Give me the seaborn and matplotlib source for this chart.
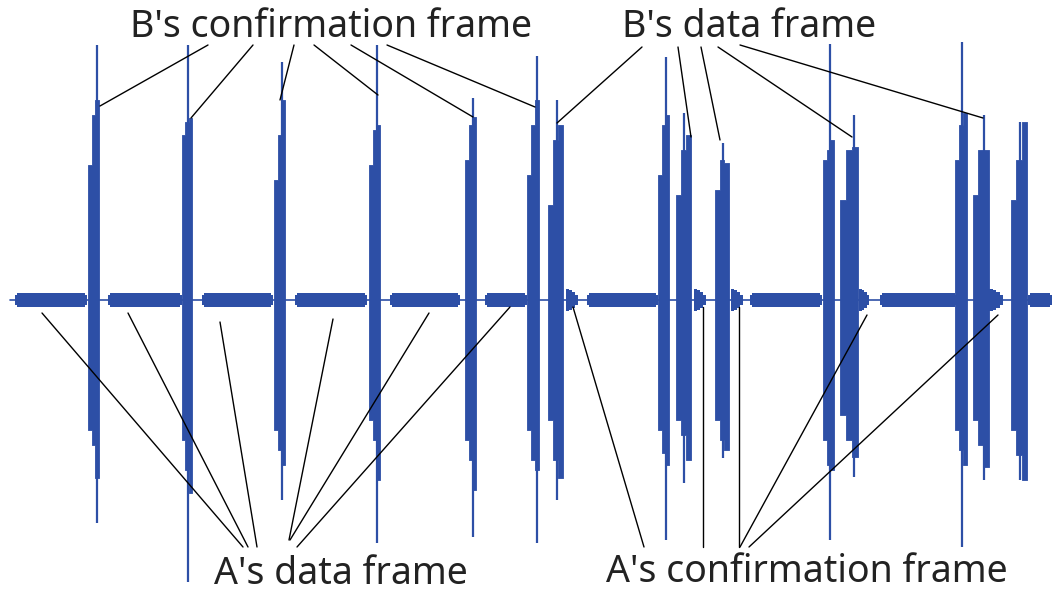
import numpy as np
import pandas as pd
import seaborn as sns
import matplotlib.pyplot as plt

# waveform, in picture pixels (y grows downwards)
BASELINE = 300
BLUE = '#2d4fa6'

# big bursts (B's frames): x range, envelope tops/bottoms in 3 steps, spike
burst_x0 = [88, 182, 274, 369, 465, 527, 548, 658, 676, 715, 823, 840, 955, 973, 1011]
burst_x1 = [99, 192, 285, 380, 476, 539, 563, 669, 691, 729, 834, 858, 967, 989, 1027]
burst_tops = [[165, 115, 100], [135, 122, 118], [180, 135, 100], [165, 130, 125],
              [160, 125, 117], [175, 125, 100], [205, 140, 125], [175, 125, 115],
              [195, 150, 135], [190, 160, 163], [160, 150, 140], [200, 150, 147],
              [160, 125, 113], [195, 150, 150], [200, 160, 122]]
burst_bots = [[430, 445, 478], [440, 470, 493], [430, 450, 465], [420, 440, 480],
              [440, 460, 490], [430, 460, 470], [420, 460, 478], [430, 453, 465],
              [420, 435, 460], [420, 440, 450], [440, 465, 470], [415, 440, 457],
              [430, 450, 465], [420, 445, 467], [430, 455, 480]]
spike_x = [97, 188, 282, 377, 473, 537, 557, 666, 684, 723, 830, 854, 962, 984, 1020]
spike_top = [45, 45, 62, 45, 98, 56, 100, 57, 113, 143, 44, 115, 42, 115, 122]
spike_bot = [523, 582, 500, 543, 537, 543, 500, 540, 483, 458, 540, 477, 547, 480, 480]

# A's data frames (low, wide bursts)
adata_x0 = [15, 108, 202, 295, 390, 485, 587, 750, 880, 1028]
adata_x1 = [87, 182, 273, 367, 460, 527, 658, 822, 957, 1052]
adata_amp = [5, 7, 7, 7, 5]

# A's confirmation frames (short blobs)
aconf_x0 = [566, 694, 731, 859, 989]
aconf_x1 = [578, 706, 743, 869, 1003]
aconf_amp = [11, 10, 8, 5]

# leader lines: label end -> frame end
b_conf_from = [(208, 45), (253, 45), (294, 45), (314, 45), (351, 45), (387, 45)]
b_conf_to = [(100, 106), (191, 118), (280, 100), (378, 95), (473, 117), (535, 107)]
b_data_from = [(642, 47), (678, 47), (701, 47), (718, 47), (740, 45)]
b_data_to = [(557, 123), (691, 137), (720, 140), (852, 137), (983, 118)]
a_data_from = [(42, 313), (128, 313), (220, 322), (333, 319), (429, 313), (510, 307)]
a_data_to = [(243, 547), (248, 547), (257, 547), (289, 540), (290, 540), (297, 547)]
a_conf_from = [(573, 307), (703, 307), (739, 307), (867, 315), (998, 315)]
a_conf_to = [(644, 547), (703, 547), (739, 547), (740, 547), (749, 547)]

labels = ["B's confirmation frame", "B's data frame", "A's data frame", "A's confirmation frame"]
label_xy = [(331, 27), (749, 27), (341, 574), (807, 572)]

sns.set_theme(style="white")
plt.rcParams['font.family'] = ['Noto Sans', 'DejaVu Sans']

fig = plt.figure(figsize=(10.52, 5.97), dpi=100)
ax = fig.add_axes([0, 0, 1, 1])

# baseline
ax.plot([10, 1052], [BASELINE, BASELINE], color=BLUE, lw=1.2, zorder=1)

# A's data frames
for x0, x1 in zip(adata_x0, adata_x1):
    edges = np.linspace(x0, x1, len(adata_amp) + 1)
    edges[1] = x0 + 2
    edges[-2] = x1 - 2
    amp = np.array(adata_amp + [adata_amp[-1]])
    ax.fill_between(edges, BASELINE - amp, BASELINE + amp, step='post',
                    color=BLUE, lw=0, zorder=2)

# A's confirmation frames
for x0, x1 in zip(aconf_x0, aconf_x1):
    edges = np.linspace(x0, x1, len(aconf_amp) + 1)
    amp = np.array(aconf_amp + [aconf_amp[-1]])
    ax.fill_between(edges, BASELINE - amp, BASELINE + amp, step='post',
                    color=BLUE, lw=0, zorder=2)

# B's bursts
for i in range(len(burst_x0)):
    edges = np.linspace(burst_x0[i], burst_x1[i], 4)
    tops = burst_tops[i] + [burst_tops[i][-1]]
    bots = burst_bots[i] + [burst_bots[i][-1]]
    ax.fill_between(edges, tops, bots, step='post', color=BLUE, lw=0.6,
                    edgecolor=BLUE, zorder=2)
    ax.vlines(spike_x[i], spike_top[i], spike_bot[i], color=BLUE, lw=1.6, zorder=2)

# leader lines
rows = []
k = 0
for froms, tos in [(b_conf_from, b_conf_to), (b_data_from, b_data_to),
                   (a_data_from, a_data_to), (a_conf_from, a_conf_to)]:
    for (xa, ya), (xb, yb) in zip(froms, tos):
        rows.append({'x': xa, 'y': ya, 'line': k})
        rows.append({'x': xb, 'y': yb, 'line': k})
        k += 1
lines = pd.DataFrame(rows)
sns.lineplot(data=lines, x='x', y='y', units='line', estimator=None, sort=False,
             color='black', lw=1.0, ax=ax, zorder=3, legend=False)
ax.set_xlim(0, 1052)
ax.set_ylim(597, 0)
ax.axis('off')

for text, (x, y) in zip(labels, label_xy):
    ax.text(x, y, text, ha='center', va='center', fontsize=27, color='#222222',
            zorder=4)

fig.savefig('out.png', dpi=100)
